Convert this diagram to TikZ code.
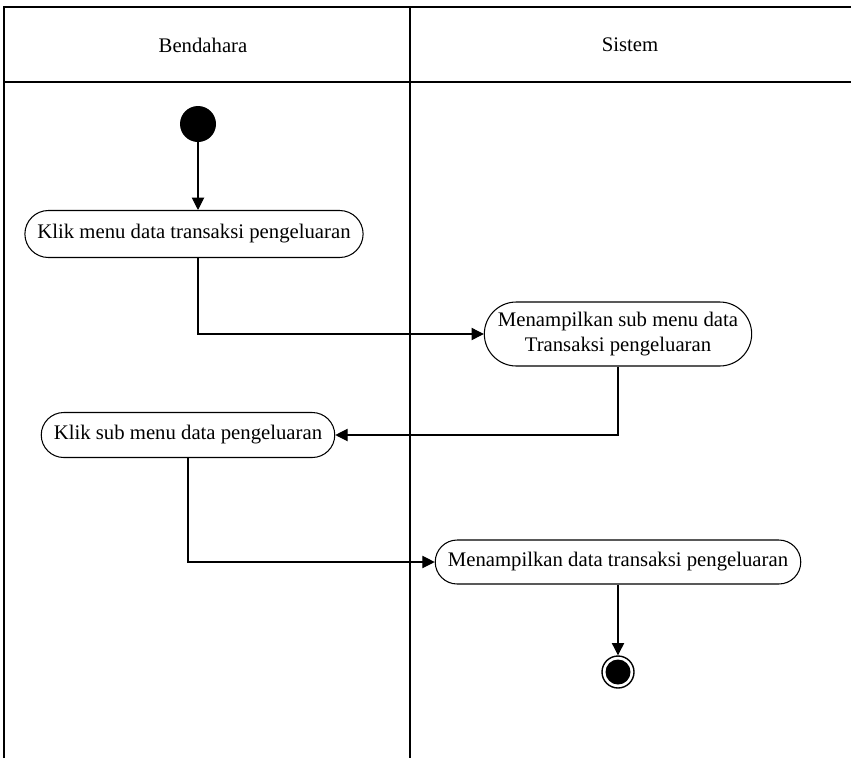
\documentclass[tikz,border=0pt]{standalone}
\usepackage{fontspec}
\setmainfont{Liberation Serif}
\usepackage{tikz}
\usetikzlibrary{shapes.misc, positioning, arrows.meta}

\begin{document}
\begin{tikzpicture}[
    x=0.02cm, y=-0.02cm,
    every node/.style={font=\fontsize{11.8}{13.8}\selectfont},
    lane/.style={draw=black, line width=0.7pt},
    action/.style={rounded rectangle, draw=black, line width=0.6pt, align=center, inner xsep=6pt},
    arrow/.style={-{Triangle[length=7pt, width=7pt]}, line width=0.6pt, draw=black},
    startnode/.style={circle, fill=black, minimum size=36*0.02cm, inner sep=0pt},
    endring/.style={circle, draw=black, line width=0.8pt, minimum size=32*0.02cm, inner sep=0pt},
    enddot/.style={circle, fill=black, minimum size=25*0.02cm, inner sep=0pt}
]

\useasboundingbox (0,0) rectangle (851,758);

% swimlanes
\draw[lane] (4,758) -- (4,7) -- (851,7);
\draw[lane] (4,82) -- (851,82);
\draw[lane] (410,7) -- (410,758);
\node (HB) at (203,45) {Bendahara};
\node (HS) at (630,45) {Sistem};

% actions
\node[startnode] (START) at (198,124) {};
\node[action, minimum height=47*0.02cm] (KMD) at (194,234) {Klik menu data transaksi pengeluaran};
\node[action, minimum height=64*0.02cm, inner xsep=3pt] (TSM) at (618,334) {Menampilkan sub menu data\\Transaksi pengeluaran};
\node[action, minimum height=45*0.02cm] (KSM) at (188,435) {Klik sub menu data pengeluaran};
\node[action, minimum height=44*0.02cm] (TDT) at (618,562) {Menampilkan data transaksi pengeluaran};
\node[endring] (END) at (618,672) {};
\node[enddot] at (END) {};

% flows
\draw[arrow] (START) -- (START |- KMD.north);
\draw[arrow] (KMD.south -| START) |- (TSM.west);
\draw[arrow] (TSM.south) |- (KSM.east);
\draw[arrow] (KSM.south) |- (TDT.west);
\draw[arrow] (TDT.south) -- (END.north);

\end{tikzpicture}
\end{document}
